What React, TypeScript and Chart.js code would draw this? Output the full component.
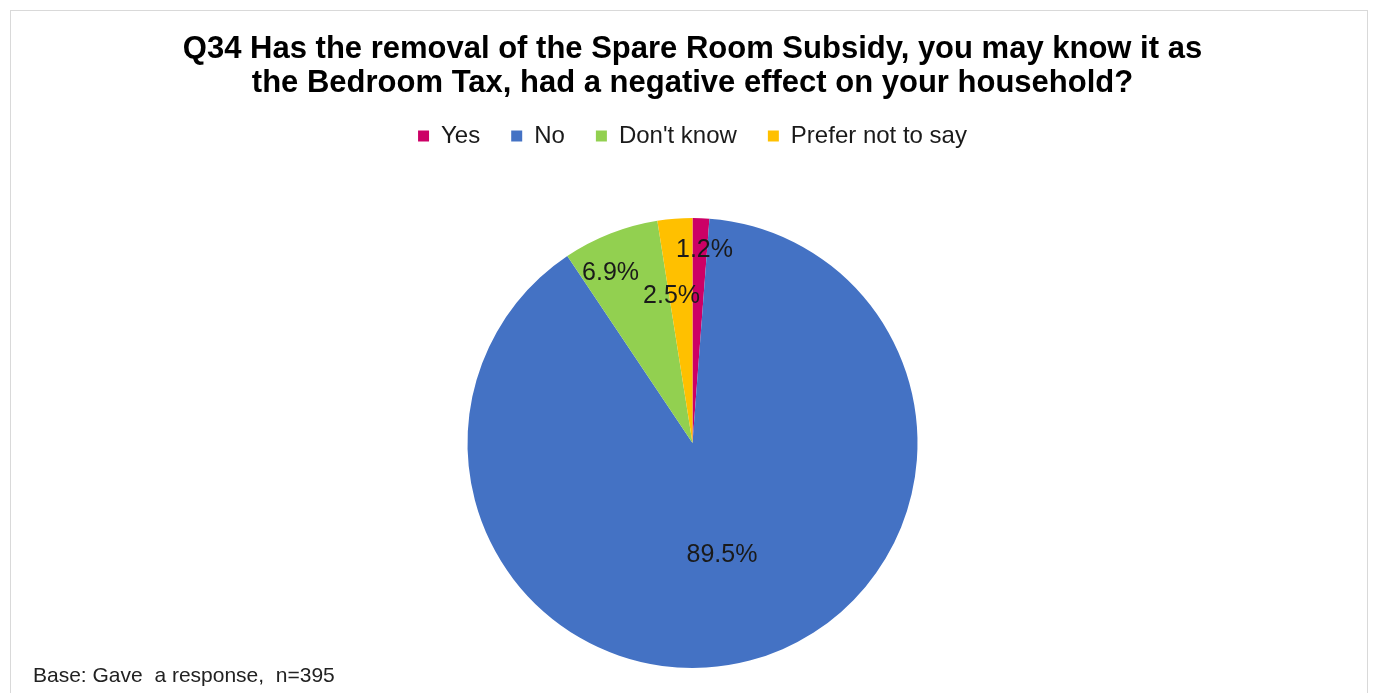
import React, { useEffect, useRef } from "react";
import { Chart, registerables } from "chart.js";

Chart.register(...registerables);

const categories = ["Yes", "No", "Don't know", "Prefer not to say"];
const percentages = [1.2, 89.5, 6.9, 2.5];
const sliceColors = ["#CC0066", "#4472C4", "#92D050", "#FFC000"];
const titleLines = [
  "Q34 Has the removal of the Spare Room Subsidy, you may know it as",
  "the Bedroom Tax, had a negative effect on your household?",
];
const baseNote = "Base: Gave  a response,  n=395";

const FONT = "'Liberation Sans', Arial, sans-serif";

// radial fraction and angular nudge (degrees) for each slice label
const labelPlacement = [
  { f: 0.86, d: 1.4 },
  { f: 0.515, d: 0 },
  { f: 0.84, d: -4.3 },
  { f: 0.66, d: -3.6 },
];

const sliceLabels = {
  id: "sliceLabels",
  afterDatasetsDraw(chart: any) {
    const meta = chart.getDatasetMeta(0);
    const ctx = chart.ctx;
    ctx.save();
    ctx.font = `25px ${FONT}`;
    ctx.fillStyle = "#1a1a1a";
    ctx.textAlign = "center";
    ctx.textBaseline = "middle";
    meta.data.forEach((arc: any, i: number) => {
      const p = arc.getProps(["x", "y", "startAngle", "endAngle", "outerRadius"], true);
      const pl = labelPlacement[i];
      const a = (p.startAngle + p.endAngle) / 2 + (pl.d * Math.PI) / 180;
      const r = p.outerRadius * pl.f;
      const v = chart.data.datasets[0].data[i] as number;
      ctx.fillText(v.toFixed(1) + "%", p.x + Math.cos(a) * r, p.y + Math.sin(a) * r);
    });
    ctx.restore();
  },
};

const footNote = {
  id: "footNote",
  afterDraw(chart: any) {
    const ctx = chart.ctx;
    ctx.save();
    ctx.font = `21px ${FONT}`;
    ctx.fillStyle = "#222";
    ctx.textAlign = "left";
    ctx.textBaseline = "middle";
    ctx.fillText(baseNote, 22, 665);
    ctx.restore();
  },
};

export default function App() {
  const ref = useRef<HTMLCanvasElement | null>(null);

  useEffect(() => {
    if (!ref.current) return;
    const chart = new Chart(ref.current, {
      type: "pie",
      data: {
        labels: categories,
        datasets: [
          {
            data: percentages,
            backgroundColor: sliceColors,
            borderWidth: 0,
            radius: 225,
          } as any,
        ],
      },
      options: {
        animation: false,
        responsive: false,
        events: [],
        layout: { padding: { left: 7, right: 0, top: 0, bottom: 23 } },
        plugins: {
          title: {
            display: true,
            text: titleLines,
            color: "#000",
            font: { family: FONT, size: 31, weight: "bold", lineHeight: 34 / 31 },
            padding: { top: 21, bottom: -7 },
          },
          legend: {
            display: true,
            position: "top",
            labels: {
              boxWidth: 11,
              boxHeight: 11,
              padding: 31,
              color: "#1a1a1a",
              font: { family: FONT, size: 24 },
            },
          },
          tooltip: { enabled: false },
        },
      },
      plugins: [sliceLabels, footNote],
    });
    return () => chart.destroy();
  }, []);

  return (
    <div
      style={{
        position: "fixed",
        left: 0,
        top: 0,
        width: 1373,
        height: 693,
        overflow: "hidden",
        background: "#fff",
      }}
    >
      <div
        style={{
          position: "absolute",
          left: 10,
          top: 10,
          width: 1358,
          height: 760,
          border: "1px solid #d9d9d9",
          boxSizing: "border-box",
          background: "#fff",
        }}
      >
        <canvas ref={ref} width={1356} height={740} style={{ display: "block" }} />
      </div>
    </div>
  );
}
